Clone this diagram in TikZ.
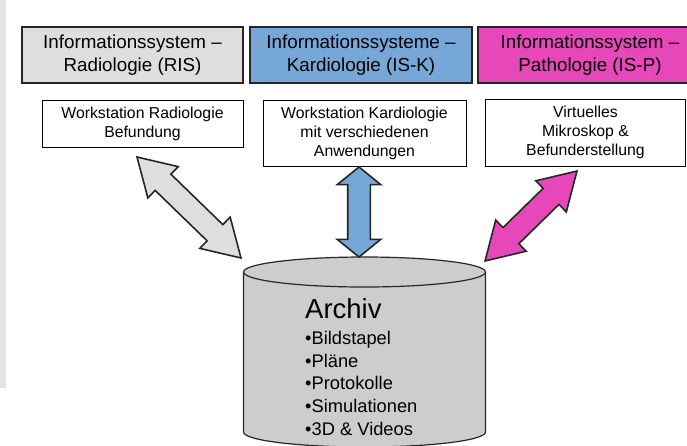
\documentclass[tikz,border=0pt]{standalone}
\usepackage{fontspec}
\setmainfont{Liberation Sans}
\usetikzlibrary{shapes.arrows,calc}
\definecolor{risgray}{HTML}{DEDEDE}
\definecolor{iskblue}{HTML}{76A7D6}
\definecolor{ispmag}{HTML}{E748B9}
\definecolor{archgray}{HTML}{CDCDCD}
\definecolor{stripgray}{HTML}{E4E4E4}
\definecolor{edge}{HTML}{262626}

\begin{document}
\begin{tikzpicture}[x=1pt, y=-1pt,%pixel grid, y down
    sysbox/.style={draw=edge, line width=1.2pt, minimum width=221pt, minimum height=56pt,
      inner sep=0pt, align=center, font=\fontsize{18.8}{23}\selectfont},
    wsbox/.style={draw=black, line width=1pt, fill=white, inner sep=0pt, align=center,
      font=\fontsize{15.8}{19}\selectfont},
    dblarr/.style={double arrow, draw=edge, line width=1.6pt, inner xsep=0pt, inner ysep=10.5pt,
      double arrow head extend=10.5pt, double arrow tip angle=62},
    archtext/.style={anchor=base west, inner sep=0pt, font=\fontsize{18.3}{22}\selectfont}]
  \useasboundingbox (0,0) rectangle (687,445);
  \clip (0,0) rectangle (687,445);
  \fill[stripgray] (0,0) rectangle (6,388);

  % information systems
  \node[sysbox, fill=risgray] (ris) at (132.5,55) {Informationssystem –\\Radiologie (RIS)};
  \node[sysbox, fill=iskblue, minimum width=222pt] (isk) at (361,55) {Informationssysteme –\\Kardiologie (IS-K)};
  \node[sysbox, fill=ispmag, minimum width=224pt] (isp) at (590,55) {Informationssystem –\\Pathologie (IS-P)};

  % workstations
  \node[wsbox, minimum width=201pt, minimum height=47pt] (wsris) at (142.5,123.5) {Workstation Radiologie\\Befundung};
  \node[wsbox, minimum width=203pt, minimum height=66pt] (wsisk) at (364.5,133) {Workstation Kardiologie\\mit verschiedenen\\Anwendungen};
  \node[wsbox, minimum width=200pt, minimum height=67pt] (wsisp) at (585.5,132.5) {Virtuelles\\Mikroskop \&\\Befunderstellung};

  % archive cylinder
  \fill[archgray] (243.5,272) -- (243.5,432) arc[start angle=180, end angle=0, x radius=121, y radius=15] -- (485.5,272) -- cycle;
  \draw[edge, line width=1.2pt] (243.5,272) -- (243.5,432) arc[start angle=180, end angle=0, x radius=121, y radius=15] -- (485.5,272);
  \draw[edge, line width=1.2pt, fill=archgray] (364.5,272) ellipse[x radius=121, y radius=15];
  \node[anchor=base west, inner sep=0pt, font=\fontsize{27.5}{30}\selectfont] (archiv) at (305,318) {Archiv};
  \foreach \entry [count=\i] in {Bildstapel, Pläne, Protokolle, Simulationen, 3D \& Videos}
    \node[archtext] (arch\i) at (305,321.5+22.75*\i) {•\entry};

  % arrow ends
  \coordinate (risTip) at (137,157);
  \coordinate (risEnd) at (241,258);
  \coordinate (iskTip) at (359,167);
  \coordinate (iskEnd) at (359,257);
  \coordinate (ispTip) at (577,171);
  \coordinate (ispEnd) at (485,261);

  \path let \p1=($(risEnd)-(risTip)$), \n1={atan2(\y1,\x1)}, \n2={veclen(\x1,\y1)} in
    node[dblarr, fill=risgray, rotate=\n1, minimum height=\n2] (arrris) at ($(risTip)!0.5!(risEnd)$) {};
  \path let \p1=($(iskEnd)-(iskTip)$), \n1={atan2(\y1,\x1)}, \n2={veclen(\x1,\y1)} in
    node[dblarr, fill=iskblue, rotate=\n1, minimum height=\n2, double arrow tip angle=102] (arrisk) at ($(iskTip)!0.5!(iskEnd)$) {};
  \path let \p1=($(ispEnd)-(ispTip)$), \n1={atan2(\y1,\x1)}, \n2={veclen(\x1,\y1)} in
    node[dblarr, fill=ispmag, rotate=\n1, minimum height=\n2] (arrisp) at ($(ispTip)!0.5!(ispEnd)$) {};
\end{tikzpicture}
\end{document}
